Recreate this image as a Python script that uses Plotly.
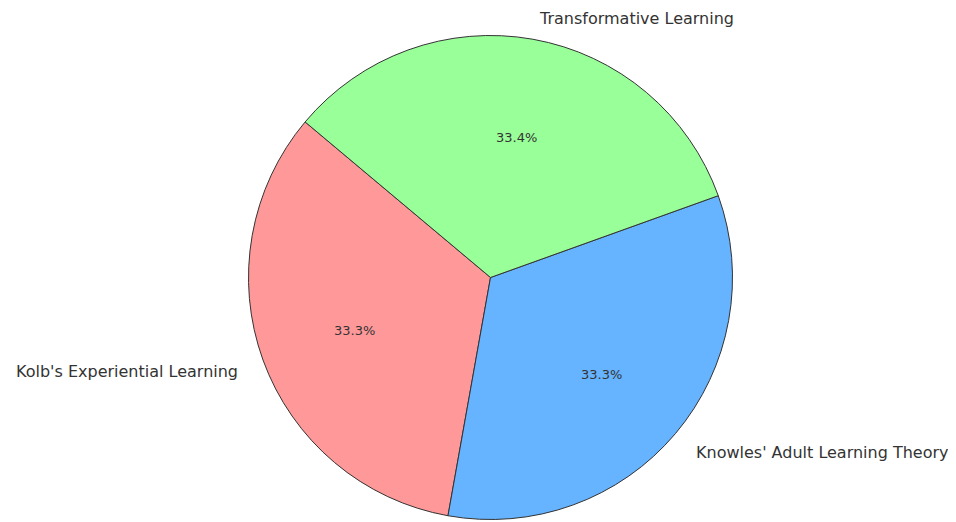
import math
import plotly.graph_objects as go

labels = ["Kolb's Experiential Learning", "Knowles' Adult Learning Theory", "Transformative Learning"]
values = [33.3, 33.3, 33.4]
colors = ["#ff9999", "#66b3ff", "#99ff99"]
start_angle = 140  # degrees, counterclockwise from 3 o'clock

W, H = 956, 522
OFF = 8                 # page body margin
cx, cy = 490.5 - OFF, 277.5 - OFF   # pixel centre inside the figure (from top)
r = 242

dom_x = [(cx - r) / W, (cx + r) / W]
dom_y = [(H - cy - r) / H, (H - cy + r) / H]

total = sum(values)
# plotly's rotation (counterclockwise mode) marks the far edge of the first slice
first_end = start_angle + 360 * values[0] / total

fig = go.Figure()
fig.add_trace(go.Pie(
    labels=labels, values=values, sort=False, direction="counterclockwise",
    rotation=90 - first_end,
    marker=dict(colors=colors, line=dict(color="#333333", width=1)),
    textinfo="none",
    hoverinfo="label+percent", showlegend=False,
    domain=dict(x=dom_x, y=dom_y),
))

ang = start_angle
for lab, v in zip(labels, values):
    span = 360 * v / total
    mid = math.radians(ang + span / 2)
    ang += span
    c, s = math.cos(mid), math.sin(mid)
    # outer label
    lx = cx + 1.1 * r * c
    ly = (H - cy) + 1.1 * r * s
    fig.add_annotation(
        x=lx / W, y=ly / H, xref="paper", yref="paper", text=lab, showarrow=False,
        xanchor="left" if c > 0 else "right", yanchor="middle", yshift=-3,
        font=dict(family="DejaVu Sans", size=16, color="#333333"),
    )
    # percentage label
    px = cx + 0.6 * r * c
    py = (H - cy) + 0.6 * r * s
    fig.add_annotation(
        x=px / W, y=py / H, xref="paper", yref="paper",
        text=f"{100 * v / total:.1f}%", showarrow=False,
        xanchor="center", yanchor="middle", yshift=-3,
        font=dict(family="DejaVu Sans", size=13, color="#333333"),
    )

fig.update_layout(
    width=W, height=H, margin=dict(l=0, r=0, t=0, b=0),
    paper_bgcolor="white", plot_bgcolor="white",
)
fig.write_html("out.html")
